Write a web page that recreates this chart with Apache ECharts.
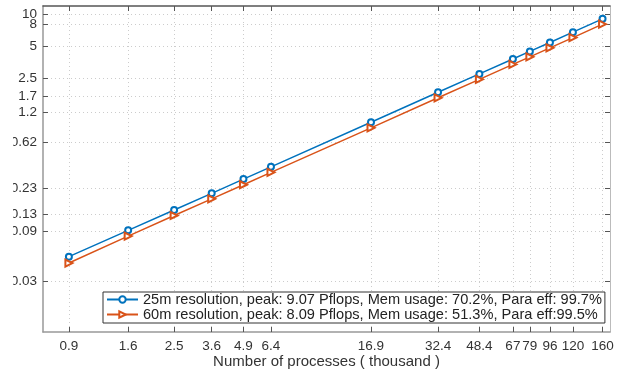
<!DOCTYPE html>
<html>
<head>
<meta charset="utf-8">
<script src="https://cdn.jsdelivr.net/npm/echarts@6/dist/echarts.min.js"></script>
<style>
html,body{margin:0;padding:0;background:#fff;}
#chart{width:618px;height:371px;}
</style>
</head>
<body>
<div id="chart"></div>
<script>
// processes (thousand)
var procs = [0.9, 1.6, 2.5, 3.6, 4.9, 6.4, 16.9, 32.4, 48.4, 67, 79, 96, 120, 160];
// Pflops
var perf25 = [0.0515, 0.0912, 0.142, 0.204, 0.278, 0.363, 0.958, 1.84, 2.74, 3.79, 4.47, 5.43, 6.79, 9.07];
var perf60 = [0.0448, 0.0805, 0.126, 0.181, 0.246, 0.322, 0.848, 1.63, 2.43, 3.37, 3.97, 4.83, 6.04, 8.09];
var yTicks = [0.03, 0.09, 0.13, 0.23, 0.62, 1.2, 1.7, 2.5, 5, 8, 10];
// "8" sits too close to "10", so it goes on its own axis to keep it from being hidden
var yLabelsMain = [0.03, 0.09, 0.13, 0.23, 0.62, 1.2, 1.7, 2.5, 5, 10];
var yLabelsExtra = [8];
var names = [
    '25m resolution, peak: 9.07 Pflops, Mem usage: 70.2%, Para eff: 99.7%',
    '60m resolution, peak: 8.09 Pflops, Mem usage: 51.3%, Para eff:99.5%'
];

function pairs(ys){
    var out = [];
    for(var i=0;i<procs.length;i++){
        out.push([procs[i], ys[i]]);
    }
    return out;
}

function fmt(v){
    return String(Math.round(v*100)/100);
}

var font = 'Liberation Sans, Arial, Helvetica, sans-serif';
var xmin = 0.7, xmax = 172, ymin = 0.01, ymax = 12;
var yLabelStyle = {formatter: fmt, fontFamily: font, fontSize: 13.5, color: '#333', margin: 6,
    hideOverlap: false, showMinLabel: true, showMaxLabel: true};

var myChart = echarts.init(document.getElementById('chart'));
var option = {
    animation: false,
    grid: {left: 43, right: 8, top: 6, bottom: 39, outerBoundsMode: 'none'},
    legend: {
        orient: 'vertical',
        left: 103,
        top: 292,
        padding: [0, 3, 1, 3],
        itemGap: 0,
        itemWidth: 31,
        itemHeight: 8,
        backgroundColor: '#fff',
        borderColor: '#333',
        borderWidth: 1,
        borderRadius: 0,
        textStyle: {fontFamily: font, fontSize: 14.6, lineHeight: 15, color: '#222'},
        data: names
    },
    xAxis: [{
        type: 'log',
        min: xmin,
        max: xmax,
        name: 'Number of processes ( thousand )',
        nameLocation: 'middle',
        nameGap: 22,
        nameMoveOverlap: false,
        nameTextStyle: {fontFamily: font, fontSize: 15, color: '#333'},
        axisLine: {lineStyle: {color: '#999', width: 1.5}},
        axisTick: {inside: true, length: 5, customValues: procs, lineStyle: {color: '#555'}},
        axisLabel: {customValues: procs, formatter: fmt, fontFamily: font, fontSize: 13.5, color: '#333', margin: 7,
            hideOverlap: false},
        splitLine: {show: true, lineStyle: {color: '#ccc', type: [1, 3], width: 1}},
        minorTick: {show: false}
    }, {
        type: 'log',
        position: 'top',
        min: xmin,
        max: xmax,
        axisLine: {show: true, lineStyle: {color: '#555', width: 1.5}},
        axisTick: {inside: true, length: 5, customValues: procs, lineStyle: {color: '#555'}},
        axisLabel: {show: false},
        splitLine: {show: false}
    }],
    yAxis: [{
        type: 'log',
        min: ymin,
        max: ymax,
        axisLine: {show: true, lineStyle: {color: '#999', width: 1.5}},
        axisTick: {show: true, inside: true, length: 5, customValues: yTicks, lineStyle: {color: '#555'}},
        axisLabel: Object.assign({customValues: yLabelsMain}, yLabelStyle),
        splitLine: {show: true, lineStyle: {color: '#ccc', type: [1, 3], width: 1}}
    }, {
        type: 'log',
        position: 'right',
        min: ymin,
        max: ymax,
        axisLine: {show: true, lineStyle: {color: '#bbb', width: 1}},
        axisTick: {show: true, inside: true, length: 5, customValues: yTicks, lineStyle: {color: '#555'}},
        axisLabel: {show: false},
        splitLine: {show: false}
    }, {
        type: 'log',
        position: 'left',
        min: ymin,
        max: ymax,
        axisLine: {show: false},
        axisTick: {show: false},
        axisLabel: Object.assign({customValues: yLabelsExtra}, yLabelStyle),
        splitLine: {show: false}
    }],
    graphic: [{
        type: 'rect',
        z: 100,
        shape: {x: 0, y: 0, width: 13, height: 340},
        style: {fill: '#fff'}
    }],
    series: [
        {
            name: names[0],
            type: 'line',
            data: pairs(perf25),
            symbol: 'emptyCircle',
            symbolSize: 6,
            color: '#0072BD',
            lineStyle: {width: 1.5},
            itemStyle: {borderWidth: 1.5}
        },
        {
            name: names[1],
            type: 'line',
            data: pairs(perf60),
            symbol: 'emptyTriangle',
            symbolRotate: -90,
            symbolSize: 7,
            color: '#D95319',
            lineStyle: {width: 1.5},
            itemStyle: {borderWidth: 1.5}
        }
    ]
};
myChart.setOption(option);
</script>
</body>
</html>
